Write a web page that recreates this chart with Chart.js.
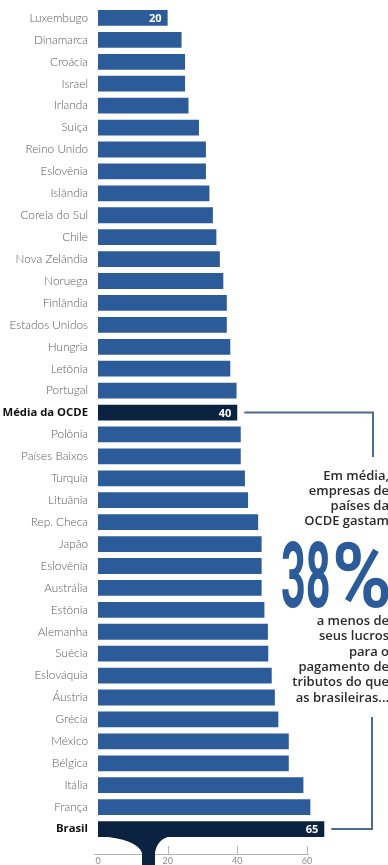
<!DOCTYPE html>
<html>
<head>
<meta charset="utf-8">
<script src="https://cdn.jsdelivr.net/npm/chart.js@4"></script>
<style>
html, body { margin: 0; padding: 0; background: #fff; }
#wrap { width: 388px; height: 865px; overflow: hidden; }
</style>
</head>
<body>
<div id="wrap"><canvas id="myChart" width="388" height="865"></canvas></div>
<script>
// tributos sobre o lucro das empresas, % do lucro
var paises = ['Luxembugo', 'Dinamarca', 'Croácia', 'Israel', 'Irlanda', 'Suíça', 'Reino Unido',
    'Eslovênia', 'Islândia', 'Coreia do Sul', 'Chile', 'Nova Zelândia', 'Noruega', 'Finlândia',
    'Estados Unidos', 'Hungria', 'Letônia', 'Portugal', 'Média da OCDE', 'Polônia', 'Países Baixos',
    'Turquia', 'Lituânia', 'Rep. Checa', 'Japão', 'Eslovênia', 'Austrália', 'Estônia', 'Alemanha',
    'Suécia', 'Eslováquia', 'Áustria', 'Grécia', 'México', 'Bélgica', 'Itália', 'França', 'Brasil'];
var valores = [20, 24, 25, 25, 26, 29, 31, 31, 32, 33, 34, 35, 36, 37, 37, 38, 38, 39.8, 40, 41,
    41, 42.2, 43.1, 46, 47, 47, 47, 47.8, 48.8, 48.9, 49.9, 50.8, 51.8, 54.8, 54.8, 59, 61, 65];
var destaques = ['Média da OCDE', 'Brasil'];
var comValor = ['Luxembugo', 'Média da OCDE', 'Brasil'];
var ticksX = [0, 20, 40, 60];

var textoAntes = ['Em média,', 'empresas de', 'países da', 'OCDE gastam'];
var textoNumero = '38';
var textoDepois = ['a menos de', 'seus lucros', 'para o', 'pagamento de', 'tributos do que', 'as brasileiras...'];

var azul = '#2c5b9a';
var escuro = '#0b2341';
var linha = '#4d6b8f';

var cores = paises.map(function(p) {
    return destaques.indexOf(p) >= 0 ? escuro : azul;
});

var anotacoes = {
    id: 'anotacoes',
    afterDatasetsDraw: function(chart) {
        var ctx = chart.ctx;
        var x = chart.scales.x;
        var area = chart.chartArea;
        var barras = chart.getDatasetMeta(0).data;

        ctx.save();

        // eixo horizontal
        var yEixo = area.bottom + 14;
        ctx.strokeStyle = '#b5b5b5';
        ctx.lineWidth = 1;
        ctx.beginPath();
        ctx.moveTo(x.getPixelForValue(0) - 4, yEixo + 0.5);
        ctx.lineTo(x.getPixelForValue(60) + 2, yEixo + 0.5);
        ticksX.slice(1).forEach(function(v) {
            var px = Math.round(x.getPixelForValue(v)) + 0.5;
            ctx.moveTo(px, yEixo);
            ctx.lineTo(px, yEixo - 8);
        });
        ctx.stroke();

        // funil abaixo da barra do Brasil
        var iBr = paises.indexOf('Brasil');
        var br = barras[iBr];
        var topo = br.y + br.height / 2;
        var esq = br.base + 1;
        ctx.fillStyle = escuro;
        ctx.beginPath();
        ctx.moveTo(esq, topo - 1);
        ctx.lineTo(esq + 72, topo - 1);
        ctx.quadraticCurveTo(esq + 58, topo + 2, esq + 56, topo + 16);
        ctx.lineTo(esq + 56, chart.height);
        ctx.lineTo(esq + 43, chart.height);
        ctx.lineTo(esq + 43, topo + 16);
        ctx.quadraticCurveTo(esq + 38, topo + 2, esq, topo - 1);
        ctx.closePath();
        ctx.fill();

        // valores dentro das barras
        ctx.fillStyle = '#fff';
        ctx.font = 'bold 11px "Open Sans"';
        ctx.textAlign = 'right';
        ctx.textBaseline = 'middle';
        comValor.forEach(function(p) {
            var i = paises.indexOf(p);
            var b = barras[i];
            ctx.fillText(String(valores[i]), b.x - 6, b.y + 1);
        });

        // linhas de ligação
        var md = barras[paises.indexOf('Média da OCDE')];
        ctx.strokeStyle = linha;
        ctx.lineWidth = 2;
        ctx.beginPath();
        ctx.moveTo(md.x + 7, md.y);
        ctx.lineTo(373, md.y);
        ctx.lineTo(373, 457);
        ctx.moveTo(br.x + 7, br.y);
        ctx.lineTo(372, br.y);
        ctx.lineTo(372, 717);
        ctx.stroke();

        // texto
        ctx.fillStyle = '#2b2b2b';
        ctx.font = '600 13px "Open Sans"';
        ctx.textAlign = 'right';
        textoAntes.forEach(function(t, i) {
            ctx.fillText(t, 389, 476 + i * 15);
        });
        textoDepois.forEach(function(t, i) {
            ctx.fillText(t, 389, 621 + i * 15.4);
        });

        // número em destaque, fonte comprimida na horizontal
        ctx.fillStyle = azul;
        ctx.textAlign = 'left';
        ctx.textBaseline = 'alphabetic';
        ctx.font = 'bold 90px Roboto';
        ctx.save();
        ctx.translate(281, 607);
        ctx.scale(0.48, 1);
        ctx.fillText(textoNumero, 0, 0);
        ctx.restore();
        ctx.save();
        ctx.translate(332, 607);
        ctx.scale(0.9, 1);
        ctx.fillText('%', 0, 0);
        ctx.restore();

        ctx.restore();
    }
};

var ctx = document.getElementById('myChart').getContext('2d');
var grafico = new Chart(ctx, {
    type: 'bar',
    data: {
        labels: paises,
        datasets: [{
            data: valores,
            backgroundColor: cores,
            barPercentage: 0.72,
            categoryPercentage: 1
        }]
    },
    options: {
        indexAxis: 'y',
        responsive: false,
        animation: false,
        layout: { padding: { top: 7, left: 0, right: 0, bottom: 0 } },
        plugins: {
            legend: { display: false },
            tooltip: { enabled: false }
        },
        scales: {
            x: {
                min: 0,
                max: 83.3,
                afterBuildTicks: function(scale) {
                    scale.ticks = ticksX.map(function(v) { return { value: v }; });
                },
                afterFit: function(scale) {
                    scale.height = 25;
                    scale.paddingLeft = 0;
                    scale.paddingRight = 0;
                },
                grid: { display: false },
                border: { display: false },
                ticks: {
                    padding: 8,
                    maxRotation: 0,
                    color: '#8d8d8d',
                    font: { family: 'Lato', size: 9 }
                }
            },
            y: {
                afterFit: function(scale) {
                    scale.width = 98;
                    scale.paddingTop = 0;
                    scale.paddingBottom = 0;
                },
                grid: { display: false, drawTicks: false },
                border: { display: false },
                ticks: {
                    padding: 10,
                    autoSkip: false,
                    color: function(c) {
                        return destaques.indexOf(paises[c.index]) >= 0 ? '#111' : '#5a5a5a';
                    },
                    font: function(c) {
                        var forte = destaques.indexOf(paises[c.index]) >= 0;
                        return { family: forte ? 'Open Sans' : 'Lato', size: forte ? 11.3 : 11.8, weight: forte ? 'bold' : '300' };
                    }
                }
            }
        }
    },
    plugins: [anotacoes]
});
</script>
</body>
</html>
